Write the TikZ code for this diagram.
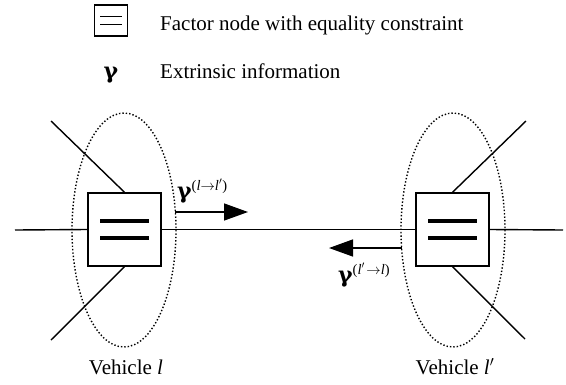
\documentclass[tikz,border=0pt]{standalone}
\usepackage{amsmath,amssymb}
\usepackage{fontspec}
\setmainfont{Liberation Serif}
\newfontfamily\gfont{DejaVu Serif}
\usetikzlibrary{arrows.meta}
\newcommand{\gsym}{{\fontsize{22}{22}\gfont\bfseries γ}}
\newcommand{\gmsg}[1]{\gsym\raisebox{8pt}{\fontsize{14.5}{14.5}\selectfont #1}}
\begin{document}
\begin{tikzpicture}[x=1pt,y=-1pt,
  every node/.style={font=\fontsize{21}{24}\selectfont},
  fbox/.style={draw,line width=1.4pt,minimum width=73pt,minimum height=73pt,inner sep=0pt},
  lbox/.style={draw,line width=1.3pt,minimum width=33pt,minimum height=31pt,inner sep=0pt},
  edge/.style={line width=1.4pt},
  grp/.style={draw,dotted,line width=1.4pt},
  bar/.style={line width=4pt},
  msg/.style={line width=1.4pt,-{Triangle[length=24pt,width=17pt]}}]
\useasboundingbox (0,0) rectangle (566,384);
% legend
\node[lbox] (lg) at (111,20.5) {};
\draw[line width=1.7pt] ([xshift=-11pt,yshift=4pt]lg.center) -- ([xshift=11pt,yshift=4pt]lg.center);
\draw[line width=1.7pt] ([xshift=-11pt,yshift=-4pt]lg.center) -- ([xshift=11pt,yshift=-4pt]lg.center);
\node[anchor=base west,inner sep=0pt] (lt1) at (160,30.5) {Factor node with equality constraint};
\node[anchor=base,inner sep=0pt] (lgam) at (111,78) {\gsym};
\node[anchor=base west,inner sep=0pt] (lt2) at (160,78) {Extrinsic information};
% factor nodes
\node[fbox] (A) at (124.5,229.5) {};
\node[fbox] (B) at (452.5,229.5) {};
\foreach \n in {A,B}{
  \draw[bar] ([xshift=-24.5pt,yshift=8.5pt]\n.center) -- ([xshift=24.5pt,yshift=8.5pt]\n.center);
  \draw[bar] ([xshift=-24.5pt,yshift=-8.5pt]\n.center) -- ([xshift=24.5pt,yshift=-8.5pt]\n.center);
}
% ellipses
\draw[grp] (124,230) ellipse [x radius=52, y radius=117];
\draw[grp] (453,230) ellipse [x radius=52, y radius=117];
% edges
\coordinate (l0) at (15,230);
\coordinate (r0) at (563,230);
\coordinate (a1) at (51,121);
\coordinate (a2) at (51,340);
\coordinate (b1) at (526,121);
\coordinate (b2) at (525,339);
\draw[edge] (l0) -- (A.west);
\draw[edge] (A.east) -- (B.west);
\draw[edge] (B.east) -- (r0);
\draw[edge] (A.north) -- (a1);
\draw[edge] (A.south) -- (a2);
\draw[edge] (B.north) -- (b1);
\draw[edge] (B.south) -- (b2);
% messages
\coordinate (m1s) at (175,212);
\coordinate (m1e) at (248,212);
\coordinate (m2s) at (402,248);
\coordinate (m2e) at (329,248);
\draw[msg] (m1s) -- (m1e);
\draw[msg] (m2s) -- (m2e);
\node[anchor=base west,inner sep=0pt] (g1) at (177,198) {\gmsg{(\textit{l}$\rightarrow$\textit{l}$'$)}};
\node[anchor=base west,inner sep=0pt] (g2) at (338,282) {\gmsg{(\textit{l}$'\!\rightarrow$\textit{l})}};
% labels
\node[anchor=base,inner sep=0pt] (v1) at (126,374) {Vehicle \textit{l}};
\node[anchor=base,inner sep=0pt] (v2) at (455,374) {Vehicle \textit{l}$'$};
\end{tikzpicture}
\end{document}
